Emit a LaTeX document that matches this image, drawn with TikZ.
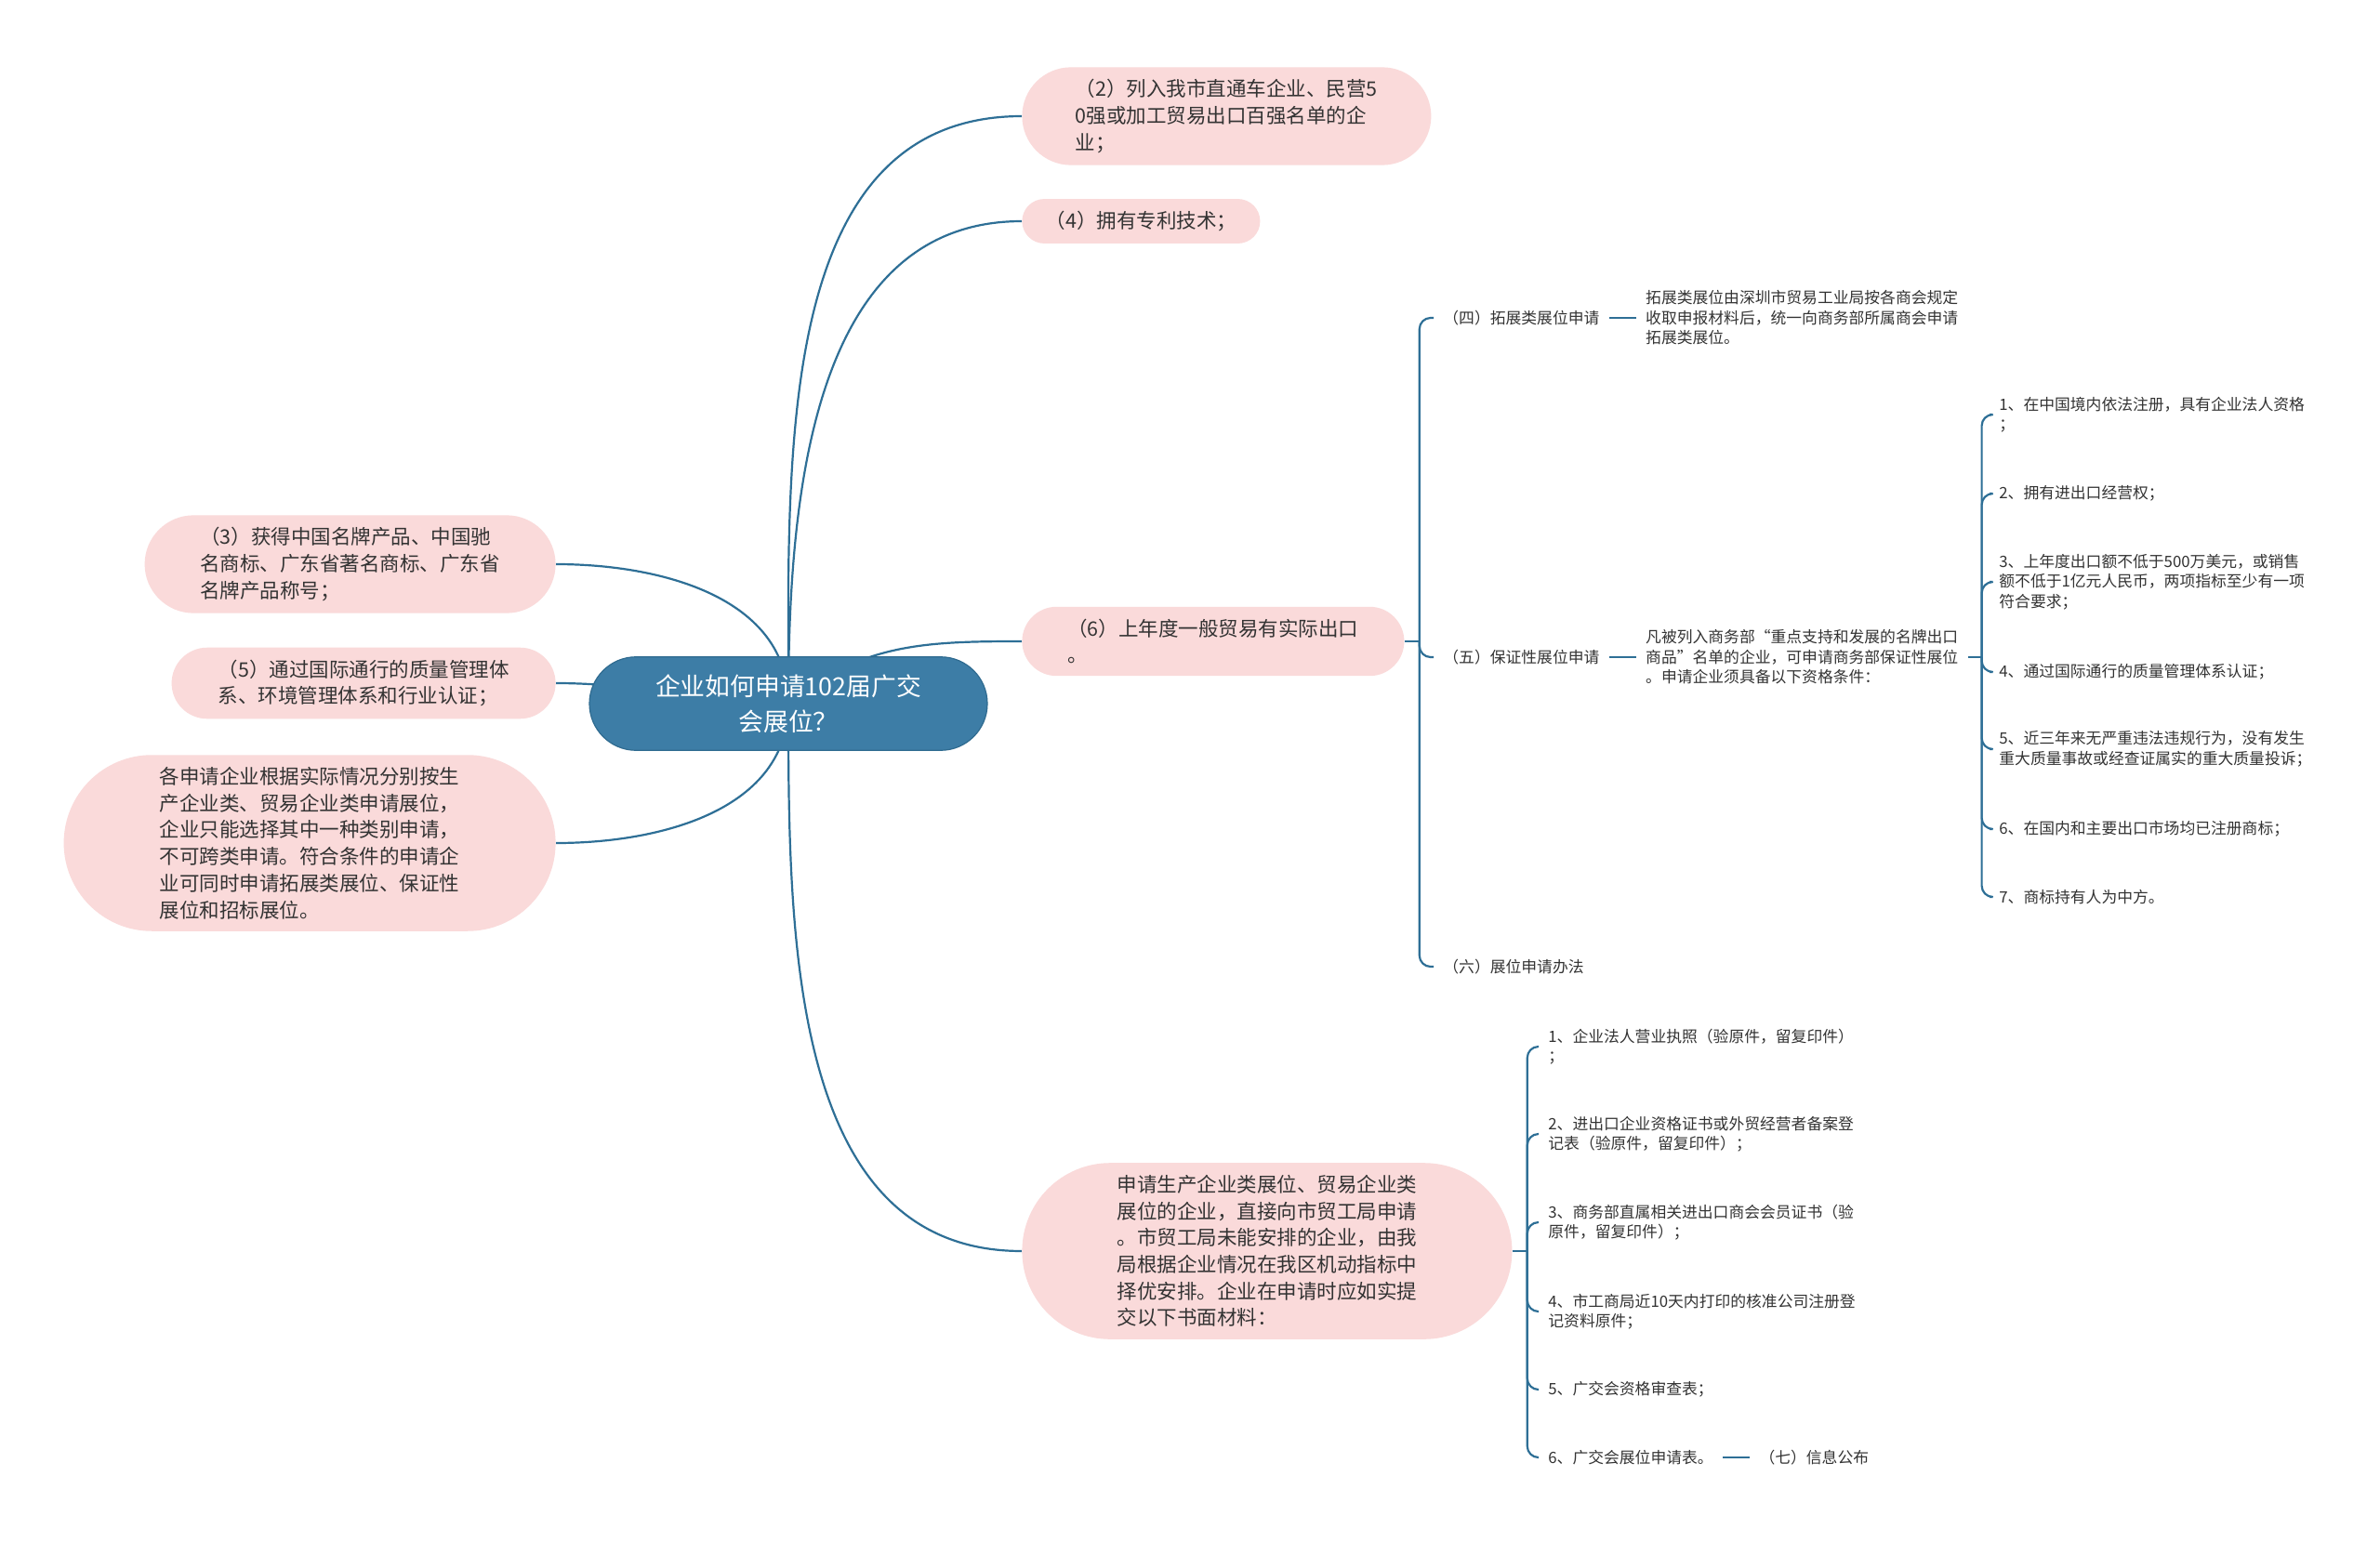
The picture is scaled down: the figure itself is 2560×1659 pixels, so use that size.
\documentclass[tikz,border=0pt]{standalone}
\usepackage{fontspec}
\setmainfont{Noto Sans CJK SC}
\usepackage{xcolor}
\usetikzlibrary{shapes.misc, positioning}
\pgfdeclarelayer{canvas}
\pgfdeclarelayer{background}
\pgfsetlayers{canvas,background,main}

\definecolor{rootblue}{HTML}{3D7DA6}
\definecolor{rootedge}{HTML}{2F6B90}
\definecolor{linkblue}{HTML}{2E6F96}
\definecolor{topicpink}{HTML}{FADADA}
\definecolor{txtgray}{HTML}{333333}

\begin{document}
\begin{tikzpicture}[
  x=0.5pt, y=-0.5pt,
  root/.style={
    rounded rectangle, draw=rootedge, line width=0.6pt, fill=rootblue,
    text=white, font=\fontsize{13.4}{18.8}\selectfont, align=center,
    inner xsep=6pt, inner ysep=9.5pt, minimum width=226pt
  },
  topic/.style={
    rounded rectangle, fill=topicpink, text=txtgray,
    font=\fontsize{10.75}{14.35}\selectfont, align=left,
    inner xsep=3pt, inner ysep=6.5pt
  },
  leaf/.style={
    text=txtgray, font=\fontsize{8.4}{10.75}\selectfont, align=left,
    inner xsep=5pt, inner ysep=2pt
  },
  link/.style={draw=linkblue, line width=1.1pt},
  brk/.style={link, rounded corners=6pt},
]
  \begin{pgfonlayer}{canvas}
    \fill[white] (0,0) rectangle (2560,1659);
  \end{pgfonlayer}
  \useasboundingbox (0,0) rectangle (2560,1659);

  % Root
  \node[root] (root) at (848,757) {企业如何申请102届广交\\会展位？};

  % Right topics
  \node[topic, minimum width=226pt, anchor=west] (t2) at (1099,125) {（2）列入我市直通车企业、民营5\\0强或加工贸易出口百强名单的企\\业；};
  \node[topic, minimum width=134pt, anchor=west] (t4) at (1099,238) {（4）拥有专利技术；};
  \node[topic, minimum width=211.5pt, anchor=west] (t6) at (1099,690) {（6）上年度一般贸易有实际出口\\。};
  \node[topic, minimum width=269.5pt, anchor=west] (tm) at (1099,1346) {申请生产企业类展位、贸易企业类\\展位的企业，直接向市贸工局申请\\。市贸工局未能安排的企业，由我\\局根据企业情况在我区机动指标中\\择优安排。企业在申请时应如实提\\交以下书面材料：};

  % Left topics
  \node[topic, minimum width=227pt, anchor=east] (t3) at (598,607) {（3）获得中国名牌产品、中国驰\\名商标、广东省著名商标、广东省\\名牌产品称号；};
  \node[topic, minimum width=212.5pt, anchor=east] (t5) at (598,735) {（5）通过国际通行的质量管理体\\系、环境管理体系和行业认证；};
  \node[topic, minimum width=270.5pt, anchor=east] (tg) at (598,907) {各申请企业根据实际情况分别按生\\产企业类、贸易企业类申请展位，\\企业只能选择其中一种类别申请，\\不可跨类申请。符合条件的申请企\\业可同时申请拓展类展位、保证性\\展位和招标展位。};

  % Branches of (6)
  \coordinate (j6) at ([xshift=8pt]t6.east);
  \node[leaf, anchor=west] (s4) at (1542,342) {（四）拓展类展位申请};
  \node[leaf, right=14.5pt of s4] (s4d) {拓展类展位由深圳市贸易工业局按各商会规定\\收取申报材料后，统一向商务部所属商会申请\\拓展类展位。};
  \node[leaf, anchor=west] (s5) at (1542,707) {（五）保证性展位申请};
  \node[leaf, right=14.5pt of s5] (s5d) {凡被列入商务部“重点支持和发展的名牌出口\\商品”名单的企业，可申请商务部保证性展位\\。申请企业须具备以下资格条件：};
  \node[leaf, anchor=west] (s6) at (1542,1040) {（六）展位申请办法};

  % Conditions
  \coordinate (j5) at ([xshift=7.5pt]s5d.east);
  \node[leaf, anchor=west] (q1) at (2140,446) {1、在中国境内依法注册，具有企业法人资格\\；};
  \node[leaf, anchor=west] (q2) at (2140,531) {2、拥有进出口经营权；};
  \node[leaf, anchor=west] (q3) at (2140,626) {3、上年度出口额不低于500万美元，或销售\\额不低于1亿元人民币，两项指标至少有一项\\符合要求；};
  \node[leaf, anchor=west] (q4) at (2140,723) {4、通过国际通行的质量管理体系认证；};
  \node[leaf, anchor=west] (q5) at (2140,806) {5、近三年来无严重违法违规行为，没有发生\\重大质量事故或经查证属实的重大质量投诉；};
  \node[leaf, anchor=west] (q6) at (2140,892) {6、在国内和主要出口市场均已注册商标；};
  \node[leaf, anchor=west] (q7) at (2140,965) {7、商标持有人为中方。};

  % Materials
  \coordinate (jm) at ([xshift=8pt]tm.east);
  \node[leaf, anchor=west] (m1) at (1655,1126) {1、企业法人营业执照（验原件，留复印件）\\；};
  \node[leaf, anchor=west] (m2) at (1655,1220) {2、进出口企业资格证书或外贸经营者备案登\\记表（验原件，留复印件）；};
  \node[leaf, anchor=west] (m3) at (1655,1315) {3、商务部直属相关进出口商会会员证书（验\\原件，留复印件）；};
  \node[leaf, anchor=west] (m4) at (1655,1411) {4、市工商局近10天内打印的核准公司注册登\\记资料原件；};
  \node[leaf, anchor=west] (m5) at (1655,1495) {5、广交会资格审查表；};
  \node[leaf, anchor=west] (m6) at (1655,1568) {6、广交会展位申请表。};
  \node[leaf, right=14.5pt of m6] (m7) {（七）信息公布};

  % Connectors
  \begin{pgfonlayer}{background}
    \draw[link] (root.center) to[out=90, in=180] (t2.west);
    \draw[link] (root.center) to[out=90, in=180] (t4.west);
    \draw[link] (root.center) to[out=40, in=180] (t6.west);
    \draw[link] (root.center) to[out=-90, in=180] (tm.west);
    \draw[link] (root.center) to[out=90, in=0] (t3.east);
    \draw[link] (root.center) to[out=180, in=0] (t5.east);
    \draw[link] (root.center) to[out=-90, in=0] (tg.east);
  \end{pgfonlayer}

  \draw[link] (t6.east) -- (j6);
  \draw[brk] (j6) |- (s4.west);
  \draw[brk] (j6) |- (s5.west);
  \draw[brk] (j6) |- (s6.west);
  \draw[link] (s4) -- (s4d);
  \draw[link] (s5) -- (s5d);

  \draw[link] (s5d.east) -- (j5);
  \draw[brk] (j5) |- (q1.west);
  \draw[brk] (j5) |- (q2.west);
  \draw[brk] (j5) |- (q3.west);
  \draw[brk] (j5) |- (q4.west);
  \draw[brk] (j5) |- (q5.west);
  \draw[brk] (j5) |- (q6.west);
  \draw[brk] (j5) |- (q7.west);

  \draw[link] (tm.east) -- (jm);
  \draw[brk] (jm) |- (m1.west);
  \draw[brk] (jm) |- (m2.west);
  \draw[brk] (jm) |- (m3.west);
  \draw[brk] (jm) |- (m4.west);
  \draw[brk] (jm) |- (m5.west);
  \draw[brk] (jm) |- (m6.west);
  \draw[link] (m6) -- (m7);
\end{tikzpicture}
\end{document}
